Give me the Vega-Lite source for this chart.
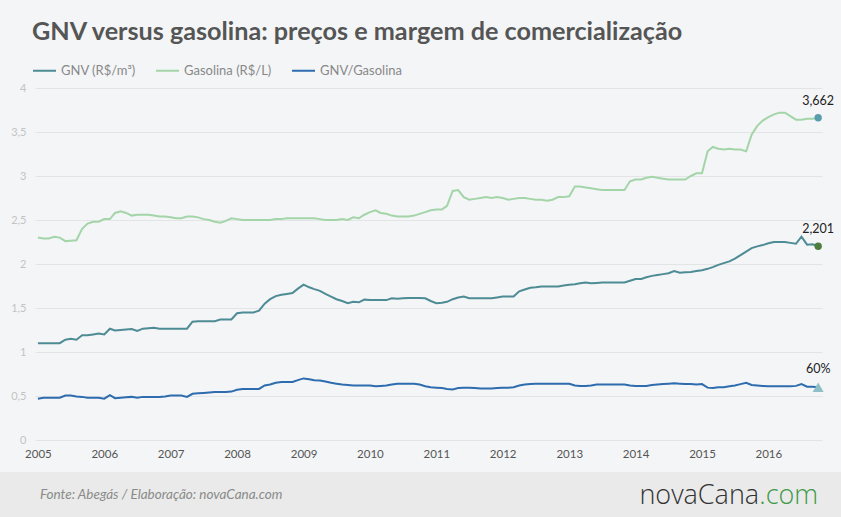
{
  "$schema": "https://vega.github.io/schema/vega-lite/v6.json",
  "width": 787,
  "height": 352,
  "autosize": {"type": "none"},
  "padding": {"left": 35, "top": 88, "right": 19, "bottom": 77},
  "background": "#f4f5f7",
  "config": {
    "locale": {"number": {"decimal": ",", "thousands": ".", "grouping": [3], "currency": ["R$ ", ""]}},
    "view": {"stroke": null},
    "font": "Lato"
  },
  "title": {
    "text": "GNV versus gasolina: preços e margem de comercialização",
    "anchor": "start",
    "frame": "group",
    "fontSize": 25.2,
    "fontWeight": "bold",
    "color": "#555555",
    "font": "Lato",
    "offset": 13,
    "dx": -3
  },
  "data": {
    "values": [
      {"d": "2005-01", "gnv": 1.10, "gas": 2.30, "r": 0.47},
      {"d": "2005-02", "gnv": 1.10, "gas": 2.29, "r": 0.48},
      {"d": "2005-03", "gnv": 1.10, "gas": 2.29, "r": 0.48},
      {"d": "2005-04", "gnv": 1.10, "gas": 2.31, "r": 0.48},
      {"d": "2005-05", "gnv": 1.10, "gas": 2.30, "r": 0.48},
      {"d": "2005-06", "gnv": 1.14, "gas": 2.26, "r": 0.505},
      {"d": "2005-07", "gnv": 1.15, "gas": 2.265, "r": 0.505},
      {"d": "2005-08", "gnv": 1.14, "gas": 2.27, "r": 0.495},
      {"d": "2005-09", "gnv": 1.19, "gas": 2.40, "r": 0.49},
      {"d": "2005-10", "gnv": 1.19, "gas": 2.46, "r": 0.48},
      {"d": "2005-11", "gnv": 1.20, "gas": 2.48, "r": 0.48},
      {"d": "2005-12", "gnv": 1.21, "gas": 2.48, "r": 0.48},
      {"d": "2006-01", "gnv": 1.20, "gas": 2.51, "r": 0.47},
      {"d": "2006-02", "gnv": 1.265, "gas": 2.51, "r": 0.51},
      {"d": "2006-03", "gnv": 1.245, "gas": 2.58, "r": 0.475},
      {"d": "2006-04", "gnv": 1.25, "gas": 2.60, "r": 0.48},
      {"d": "2006-05", "gnv": 1.255, "gas": 2.58, "r": 0.485},
      {"d": "2006-06", "gnv": 1.26, "gas": 2.55, "r": 0.49},
      {"d": "2006-07", "gnv": 1.24, "gas": 2.56, "r": 0.48},
      {"d": "2006-08", "gnv": 1.265, "gas": 2.56, "r": 0.49},
      {"d": "2006-09", "gnv": 1.27, "gas": 2.56, "r": 0.49},
      {"d": "2006-10", "gnv": 1.275, "gas": 2.55, "r": 0.49},
      {"d": "2006-11", "gnv": 1.265, "gas": 2.54, "r": 0.49},
      {"d": "2006-12", "gnv": 1.265, "gas": 2.54, "r": 0.495},
      {"d": "2007-01", "gnv": 1.265, "gas": 2.53, "r": 0.505},
      {"d": "2007-02", "gnv": 1.265, "gas": 2.52, "r": 0.505},
      {"d": "2007-03", "gnv": 1.265, "gas": 2.52, "r": 0.505},
      {"d": "2007-04", "gnv": 1.265, "gas": 2.54, "r": 0.49},
      {"d": "2007-05", "gnv": 1.345, "gas": 2.54, "r": 0.525},
      {"d": "2007-06", "gnv": 1.35, "gas": 2.53, "r": 0.53},
      {"d": "2007-07", "gnv": 1.35, "gas": 2.51, "r": 0.535},
      {"d": "2007-08", "gnv": 1.35, "gas": 2.50, "r": 0.54},
      {"d": "2007-09", "gnv": 1.35, "gas": 2.48, "r": 0.545},
      {"d": "2007-10", "gnv": 1.37, "gas": 2.47, "r": 0.545},
      {"d": "2007-11", "gnv": 1.37, "gas": 2.49, "r": 0.545},
      {"d": "2007-12", "gnv": 1.37, "gas": 2.52, "r": 0.55},
      {"d": "2008-01", "gnv": 1.44, "gas": 2.51, "r": 0.57},
      {"d": "2008-02", "gnv": 1.45, "gas": 2.50, "r": 0.58},
      {"d": "2008-03", "gnv": 1.45, "gas": 2.50, "r": 0.58},
      {"d": "2008-04", "gnv": 1.45, "gas": 2.50, "r": 0.58},
      {"d": "2008-05", "gnv": 1.47, "gas": 2.50, "r": 0.58},
      {"d": "2008-06", "gnv": 1.55, "gas": 2.50, "r": 0.62},
      {"d": "2008-07", "gnv": 1.60, "gas": 2.50, "r": 0.63},
      {"d": "2008-08", "gnv": 1.635, "gas": 2.51, "r": 0.65},
      {"d": "2008-09", "gnv": 1.65, "gas": 2.51, "r": 0.66},
      {"d": "2008-10", "gnv": 1.66, "gas": 2.52, "r": 0.66},
      {"d": "2008-11", "gnv": 1.67, "gas": 2.52, "r": 0.66},
      {"d": "2008-12", "gnv": 1.72, "gas": 2.52, "r": 0.68},
      {"d": "2009-01", "gnv": 1.765, "gas": 2.52, "r": 0.70},
      {"d": "2009-02", "gnv": 1.735, "gas": 2.52, "r": 0.69},
      {"d": "2009-03", "gnv": 1.715, "gas": 2.52, "r": 0.68},
      {"d": "2009-04", "gnv": 1.695, "gas": 2.51, "r": 0.675},
      {"d": "2009-05", "gnv": 1.66, "gas": 2.50, "r": 0.665},
      {"d": "2009-06", "gnv": 1.63, "gas": 2.50, "r": 0.65},
      {"d": "2009-07", "gnv": 1.60, "gas": 2.50, "r": 0.64},
      {"d": "2009-08", "gnv": 1.58, "gas": 2.51, "r": 0.63},
      {"d": "2009-09", "gnv": 1.555, "gas": 2.50, "r": 0.625},
      {"d": "2009-10", "gnv": 1.57, "gas": 2.53, "r": 0.62},
      {"d": "2009-11", "gnv": 1.565, "gas": 2.52, "r": 0.62},
      {"d": "2009-12", "gnv": 1.595, "gas": 2.56, "r": 0.62},
      {"d": "2010-01", "gnv": 1.59, "gas": 2.59, "r": 0.62},
      {"d": "2010-02", "gnv": 1.59, "gas": 2.61, "r": 0.61},
      {"d": "2010-03", "gnv": 1.59, "gas": 2.58, "r": 0.615},
      {"d": "2010-04", "gnv": 1.59, "gas": 2.57, "r": 0.62},
      {"d": "2010-05", "gnv": 1.61, "gas": 2.55, "r": 0.63},
      {"d": "2010-06", "gnv": 1.605, "gas": 2.54, "r": 0.64},
      {"d": "2010-07", "gnv": 1.61, "gas": 2.54, "r": 0.64},
      {"d": "2010-08", "gnv": 1.615, "gas": 2.54, "r": 0.64},
      {"d": "2010-09", "gnv": 1.615, "gas": 2.55, "r": 0.64},
      {"d": "2010-10", "gnv": 1.615, "gas": 2.57, "r": 0.63},
      {"d": "2010-11", "gnv": 1.61, "gas": 2.59, "r": 0.61},
      {"d": "2010-12", "gnv": 1.58, "gas": 2.61, "r": 0.60},
      {"d": "2011-01", "gnv": 1.555, "gas": 2.62, "r": 0.595},
      {"d": "2011-02", "gnv": 1.56, "gas": 2.62, "r": 0.59},
      {"d": "2011-03", "gnv": 1.57, "gas": 2.66, "r": 0.58},
      {"d": "2011-04", "gnv": 1.60, "gas": 2.83, "r": 0.575},
      {"d": "2011-05", "gnv": 1.62, "gas": 2.84, "r": 0.59},
      {"d": "2011-06", "gnv": 1.63, "gas": 2.76, "r": 0.595},
      {"d": "2011-07", "gnv": 1.61, "gas": 2.73, "r": 0.595},
      {"d": "2011-08", "gnv": 1.61, "gas": 2.74, "r": 0.59},
      {"d": "2011-09", "gnv": 1.61, "gas": 2.75, "r": 0.585},
      {"d": "2011-10", "gnv": 1.61, "gas": 2.76, "r": 0.585},
      {"d": "2011-11", "gnv": 1.61, "gas": 2.75, "r": 0.585},
      {"d": "2011-12", "gnv": 1.62, "gas": 2.76, "r": 0.59},
      {"d": "2012-01", "gnv": 1.63, "gas": 2.75, "r": 0.595},
      {"d": "2012-02", "gnv": 1.63, "gas": 2.73, "r": 0.595},
      {"d": "2012-03", "gnv": 1.63, "gas": 2.74, "r": 0.60},
      {"d": "2012-04", "gnv": 1.69, "gas": 2.75, "r": 0.62},
      {"d": "2012-05", "gnv": 1.71, "gas": 2.75, "r": 0.63},
      {"d": "2012-06", "gnv": 1.73, "gas": 2.74, "r": 0.635},
      {"d": "2012-07", "gnv": 1.735, "gas": 2.73, "r": 0.64},
      {"d": "2012-08", "gnv": 1.745, "gas": 2.73, "r": 0.64},
      {"d": "2012-09", "gnv": 1.745, "gas": 2.72, "r": 0.64},
      {"d": "2012-10", "gnv": 1.745, "gas": 2.73, "r": 0.64},
      {"d": "2012-11", "gnv": 1.745, "gas": 2.76, "r": 0.64},
      {"d": "2012-12", "gnv": 1.755, "gas": 2.76, "r": 0.64},
      {"d": "2013-01", "gnv": 1.765, "gas": 2.77, "r": 0.64},
      {"d": "2013-02", "gnv": 1.77, "gas": 2.88, "r": 0.62},
      {"d": "2013-03", "gnv": 1.78, "gas": 2.88, "r": 0.615},
      {"d": "2013-04", "gnv": 1.79, "gas": 2.87, "r": 0.615},
      {"d": "2013-05", "gnv": 1.78, "gas": 2.86, "r": 0.62},
      {"d": "2013-06", "gnv": 1.785, "gas": 2.85, "r": 0.63},
      {"d": "2013-07", "gnv": 1.79, "gas": 2.84, "r": 0.63},
      {"d": "2013-08", "gnv": 1.79, "gas": 2.84, "r": 0.63},
      {"d": "2013-09", "gnv": 1.79, "gas": 2.84, "r": 0.63},
      {"d": "2013-10", "gnv": 1.79, "gas": 2.84, "r": 0.63},
      {"d": "2013-11", "gnv": 1.79, "gas": 2.84, "r": 0.63},
      {"d": "2013-12", "gnv": 1.81, "gas": 2.94, "r": 0.62},
      {"d": "2014-01", "gnv": 1.83, "gas": 2.96, "r": 0.615},
      {"d": "2014-02", "gnv": 1.83, "gas": 2.96, "r": 0.615},
      {"d": "2014-03", "gnv": 1.85, "gas": 2.98, "r": 0.615},
      {"d": "2014-04", "gnv": 1.865, "gas": 2.99, "r": 0.625},
      {"d": "2014-05", "gnv": 1.875, "gas": 2.98, "r": 0.63},
      {"d": "2014-06", "gnv": 1.885, "gas": 2.97, "r": 0.635},
      {"d": "2014-07", "gnv": 1.895, "gas": 2.96, "r": 0.64},
      {"d": "2014-08", "gnv": 1.92, "gas": 2.96, "r": 0.645},
      {"d": "2014-09", "gnv": 1.90, "gas": 2.96, "r": 0.64},
      {"d": "2014-10", "gnv": 1.905, "gas": 2.96, "r": 0.635},
      {"d": "2014-11", "gnv": 1.91, "gas": 3.00, "r": 0.635},
      {"d": "2014-12", "gnv": 1.92, "gas": 3.03, "r": 0.63},
      {"d": "2015-01", "gnv": 1.93, "gas": 3.03, "r": 0.635},
      {"d": "2015-02", "gnv": 1.945, "gas": 3.28, "r": 0.595},
      {"d": "2015-03", "gnv": 1.965, "gas": 3.33, "r": 0.59},
      {"d": "2015-04", "gnv": 1.99, "gas": 3.31, "r": 0.60},
      {"d": "2015-05", "gnv": 2.01, "gas": 3.30, "r": 0.60},
      {"d": "2015-06", "gnv": 2.03, "gas": 3.31, "r": 0.61},
      {"d": "2015-07", "gnv": 2.06, "gas": 3.30, "r": 0.62},
      {"d": "2015-08", "gnv": 2.10, "gas": 3.30, "r": 0.635},
      {"d": "2015-09", "gnv": 2.14, "gas": 3.28, "r": 0.65},
      {"d": "2015-10", "gnv": 2.18, "gas": 3.47, "r": 0.625},
      {"d": "2015-11", "gnv": 2.20, "gas": 3.57, "r": 0.62},
      {"d": "2015-12", "gnv": 2.215, "gas": 3.63, "r": 0.615},
      {"d": "2016-01", "gnv": 2.235, "gas": 3.67, "r": 0.61},
      {"d": "2016-02", "gnv": 2.25, "gas": 3.70, "r": 0.61},
      {"d": "2016-03", "gnv": 2.25, "gas": 3.72, "r": 0.61},
      {"d": "2016-04", "gnv": 2.25, "gas": 3.72, "r": 0.61},
      {"d": "2016-05", "gnv": 2.24, "gas": 3.68, "r": 0.61},
      {"d": "2016-06", "gnv": 2.23, "gas": 3.64, "r": 0.615},
      {"d": "2016-07", "gnv": 2.31, "gas": 3.64, "r": 0.635},
      {"d": "2016-08", "gnv": 2.22, "gas": 3.65, "r": 0.605},
      {"d": "2016-09", "gnv": 2.225, "gas": 3.65, "r": 0.605},
      {"d": "2016-10", "gnv": 2.201, "gas": 3.662, "r": 0.60}
    ]
  },
  "layer": [
    {
      "data": {"values": [{}]},
      "mark": {"type": "rect", "color": "#e9eae9"},
      "encoding": {
        "x": {"datum": {"year": 2004, "month": 1, "date": 1, "utc": true}, "type": "temporal",
              "scale": {"type": "utc", "domain": [{"year": 2004, "month": 12, "date": 16, "utc": true}, {"year": 2016, "month": 10, "date": 22, "utc": true}]}},
        "x2": {"datum": {"year": 2017, "month": 12, "date": 1, "utc": true}},
        "y": {"datum": -0.3636, "type": "quantitative", "scale": {"domain": [0, 4]}},
        "y2": {"datum": -1.3}
      }
    },
    {
      "transform": [{"fold": ["gnv", "gas", "r"], "as": ["s", "v"]}],
      "mark": {"type": "line", "strokeWidth": 2},
      "encoding": {
        "x": {"field": "d", "type": "temporal",
              "scale": {"type": "utc", "domain": [{"year": 2004, "month": 12, "date": 16, "utc": true}, {"year": 2016, "month": 10, "date": 22, "utc": true}]},
              "axis": {"title": null, "grid": false, "ticks": false, "domain": false, "format": "%Y",
                       "tickCount": {"interval": "year", "step": 1},
                       "labelColor": "#555555", "labelFontSize": 11.5, "labelPadding": 8, "labelFont": "Lato"}},
        "y": {"field": "v", "type": "quantitative", "scale": {"domain": [0, 4]},
              "axis": {"title": null, "values": [0, 0.5, 1, 1.5, 2, 2.5, 3, 3.5, 4], "format": "~g", "grid": true, "gridColor": "#e3e4e6",
                       "ticks": false, "domain": false, "labelColor": "#c3c3c3", "labelFontSize": 11, "labelPadding": 9, "labelFont": "Lato"}},
        "stroke": {"field": "s", "type": "nominal",
                   "scale": {"domain": ["gnv", "gas", "r"], "range": ["#4d8b95", "#a3d5a9", "#2d6cae"]},
                   "legend": {"title": null, "orient": "none", "legendX": -3, "legendY": -30, "direction": "horizontal",
                              "symbolType": "stroke", "symbolSize": 529, "symbolStrokeWidth": 2,
                              "labelFontSize": 13, "labelColor": "#888888", "labelFont": "Lato", "labelOffset": 4, "columnPadding": 16,
                              "labelExpr": "datum.label == 'gnv' ? 'GNV (R$/m³)' : datum.label == 'gas' ? 'Gasolina (R$/L)' : 'GNV/Gasolina'"}}
      }
    },
    {
      "transform": [{"filter": "utcyear(datum.d) == 2016 && utcmonth(datum.d) == 9"}],
      "mark": {"type": "point", "filled": true, "opacity": 1, "shape": "circle", "size": 55, "color": "#5a9dad"},
      "encoding": {
        "x": {"field": "d", "type": "temporal"},
        "y": {"field": "gas", "type": "quantitative"}
      }
    },
    {
      "transform": [{"filter": "utcyear(datum.d) == 2016 && utcmonth(datum.d) == 9"}],
      "mark": {"type": "point", "filled": true, "opacity": 1, "shape": "circle", "size": 55, "color": "#4c7d3d"},
      "encoding": {
        "x": {"field": "d", "type": "temporal"},
        "y": {"field": "gnv", "type": "quantitative"}
      }
    },
    {
      "transform": [{"filter": "utcyear(datum.d) == 2016 && utcmonth(datum.d) == 9"}],
      "mark": {"type": "point", "filled": true, "opacity": 1, "shape": "triangle-up", "size": 120, "color": "#8dbfc6"},
      "encoding": {
        "x": {"field": "d", "type": "temporal"},
        "y": {"field": "r", "type": "quantitative"}
      }
    },
    {
      "transform": [{"filter": "utcyear(datum.d) == 2016 && utcmonth(datum.d) == 9"}],
      "mark": {"type": "text", "dy": -17, "fontSize": 12.5, "color": "#222222", "font": "Lato"},
      "encoding": {
        "x": {"field": "d", "type": "temporal"},
        "y": {"field": "gas", "type": "quantitative"},
        "text": {"field": "gas", "type": "quantitative", "format": ".3f"}
      }
    },
    {
      "transform": [{"filter": "utcyear(datum.d) == 2016 && utcmonth(datum.d) == 9"}],
      "mark": {"type": "text", "dy": -17, "fontSize": 12.5, "color": "#222222", "font": "Lato"},
      "encoding": {
        "x": {"field": "d", "type": "temporal"},
        "y": {"field": "gnv", "type": "quantitative"},
        "text": {"field": "gnv", "type": "quantitative", "format": ".3f"}
      }
    },
    {
      "transform": [{"filter": "utcyear(datum.d) == 2016 && utcmonth(datum.d) == 9"}],
      "mark": {"type": "text", "dy": -18, "fontSize": 12.5, "color": "#222222", "font": "Lato"},
      "encoding": {
        "x": {"field": "d", "type": "temporal"},
        "y": {"field": "r", "type": "quantitative"},
        "text": {"field": "r", "type": "quantitative", "format": ".0%"}
      }
    },
    {
      "data": {"values": [{}]},
      "mark": {"type": "text", "text": "Fonte: Abegás / Elaboração:  novaCana.com", "align": "left", "baseline": "middle",
               "fontStyle": "italic", "fontSize": 13.5, "color": "#8a8a8a", "font": "Lato"},
      "encoding": {
        "x": {"datum": {"year": 2005, "month": 1, "date": 12, "utc": true}, "type": "temporal"},
        "y": {"datum": -0.625, "type": "quantitative"}
      }
    },
    {
      "data": {"values": [{}]},
      "mark": {"type": "text", "text": ".com", "align": "right", "baseline": "middle",
               "fontSize": 27, "fontWeight": 300, "color": "#3f9a4a", "font": "Open Sans"},
      "encoding": {
        "x": {"datum": {"year": 2016, "month": 10, "date": 1, "utc": true}, "type": "temporal"},
        "y": {"datum": -0.64, "type": "quantitative"}
      }
    },
    {
      "data": {"values": [{}]},
      "mark": {"type": "text", "text": "novaCana", "align": "right", "baseline": "middle", "dx": -59,
               "fontSize": 27, "fontWeight": 300, "color": "#333333", "font": "Open Sans"},
      "encoding": {
        "x": {"datum": {"year": 2016, "month": 10, "date": 1, "utc": true}, "type": "temporal"},
        "y": {"datum": -0.64, "type": "quantitative"}
      }
    }
  ]
}
